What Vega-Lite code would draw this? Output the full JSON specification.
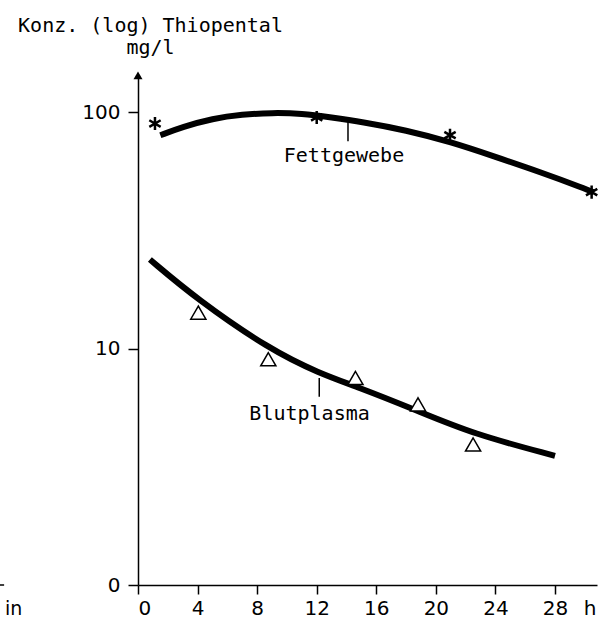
{
  "$schema": "https://vega.github.io/schema/vega-lite/v6.json",
  "width": 459,
  "height": 511,
  "autosize": {"type": "none"},
  "padding": {"left": 138, "top": 74, "right": 1, "bottom": 35},
  "background": "white",
  "config": {
    "view": {"stroke": null},
    "axis": {
      "domainColor": "black",
      "domainWidth": 1.5,
      "tickColor": "black",
      "tickWidth": 1.5,
      "grid": false,
      "labelColor": "black",
      "titleColor": "black",
      "labelFont": "DejaVu Sans",
      "titleFont": "DejaVu Sans Mono",
      "labelFontWeight": "normal",
      "titleFontWeight": "normal"
    }
  },
  "datasets": {
    "curves": [
      {"series": "Fettgewebe", "t": 1.5, "c": 79.9},
      {"series": "Fettgewebe", "t": 3, "c": 86.6},
      {"series": "Fettgewebe", "t": 5, "c": 94.0},
      {"series": "Fettgewebe", "t": 7, "c": 97.8},
      {"series": "Fettgewebe", "t": 9, "c": 99.4},
      {"series": "Fettgewebe", "t": 11, "c": 98.7},
      {"series": "Fettgewebe", "t": 13, "c": 94.9},
      {"series": "Fettgewebe", "t": 15, "c": 91.0},
      {"series": "Fettgewebe", "t": 18, "c": 83.9},
      {"series": "Fettgewebe", "t": 21, "c": 74.8},
      {"series": "Fettgewebe", "t": 24, "c": 64.7},
      {"series": "Fettgewebe", "t": 27, "c": 55.8},
      {"series": "Fettgewebe", "t": 30, "c": 47.5},
      {"series": "Fettgewebe", "t": 30.6, "c": 45.8},
      {"series": "Blutplasma", "t": 0.8, "c": 23.8},
      {"series": "Blutplasma", "t": 3.94, "c": 16.2},
      {"series": "Blutplasma", "t": 8.86, "c": 9.9},
      {"series": "Blutplasma", "t": 12.2, "c": 7.85},
      {"series": "Blutplasma", "t": 14.7, "c": 6.9},
      {"series": "Blutplasma", "t": 18.5, "c": 5.55},
      {"series": "Blutplasma", "t": 22.5, "c": 4.35},
      {"series": "Blutplasma", "t": 28, "c": 3.52}
    ],
    "fett": [
      {"t": 1.14, "c": 89.5},
      {"t": 12, "c": 95},
      {"t": 20.95, "c": 79.9},
      {"t": 30.46, "c": 45.9}
    ],
    "blut": [
      {"t": 4.05, "c": 14.2},
      {"t": 8.75, "c": 9.01},
      {"t": 14.6, "c": 7.51},
      {"t": 18.8, "c": 5.81},
      {"t": 22.5, "c": 3.93}
    ],
    "leaders": [
      {"t": 14.1, "c1": 75.4, "c2": 92.0},
      {"t": 12.17, "c1": 6.26, "c2": 7.5}
    ],
    "labels": [
      {"label": "Fettgewebe", "t": 13.83, "c": 61.4},
      {"label": "Blutplasma", "t": 11.52, "c": 5.0}
    ],
    "arrow": [{"t": 0, "c": 143.2}],
    "stray": [{"label": "in", "t": -8.93, "c": 0.746}],
    "dash": [{"t1": -9.27, "t2": -8.99, "c": 1}]
  },
  "layer": [
    {
      "data": {"name": "curves"},
      "mark": {"type": "line", "color": "black", "strokeWidth": 6, "interpolate": "basis", "strokeCap": "butt"},
      "encoding": {
        "x": {
          "field": "t", "type": "quantitative",
          "scale": {"domain": [0, 30.82], "nice": false, "zero": false},
          "axis": {
            "values": [0, 4, 8, 12, 16, 20, 24, 28],
            "tickSize": 9,
            "labelFontSize": 20,
            "labelBaseline": "alphabetic",
            "labelPadding": 20,
            "title": "h",
            "titleFont": "DejaVu Sans",
            "titleFontSize": 20,
            "titleX": 451.5,
            "titleY": 29,
            "titleAlign": "center",
            "titleBaseline": "alphabetic"
          }
        },
        "y": {
          "field": "c", "type": "quantitative",
          "scale": {"type": "log", "domain": [1, 145], "nice": false},
          "axis": {
            "values": [1, 10, 100],
            "format": "d",
            "labelExpr": "datum.value == 1 ? '0' : datum.label",
            "tickSize": 10,
            "labelFontSize": 20,
            "labelPadding": 8,
            "title": ["Konz. (log) Thiopental", "mg/l"],
            "titleFontSize": 20,
            "titleLineHeight": 22,
            "titleAngle": 0,
            "titleAlign": "center",
            "titleBaseline": "alphabetic",
            "titleX": 12,
            "titleY": -43
          }
        },
        "detail": {"field": "series"}
      }
    },
    {
      "data": {"name": "leaders"},
      "mark": {"type": "rule", "color": "black", "strokeWidth": 1.5},
      "encoding": {
        "x": {"field": "t", "type": "quantitative"},
        "y": {"field": "c1", "type": "quantitative"},
        "y2": {"field": "c2"}
      }
    },
    {
      "data": {"name": "fett"},
      "mark": {"type": "point", "shape": "M0,-1L0,1M-0.87,-0.5L0.87,0.5M-0.87,0.5L0.87,-0.5", "filled": false, "stroke": "black", "strokeWidth": 2.5, "size": 170, "opacity": 1},
      "encoding": {
        "x": {"field": "t", "type": "quantitative"},
        "y": {"field": "c", "type": "quantitative"}
      }
    },
    {
      "data": {"name": "blut"},
      "mark": {"type": "point", "shape": "triangle-up", "filled": false, "fill": "white", "fillOpacity": 1, "stroke": "black", "strokeWidth": 1.5, "size": 230, "opacity": 1},
      "encoding": {
        "x": {"field": "t", "type": "quantitative"},
        "y": {"field": "c", "type": "quantitative"}
      }
    },
    {
      "data": {"name": "labels"},
      "mark": {"type": "text", "font": "DejaVu Sans Mono", "fontSize": 20, "align": "center", "baseline": "alphabetic", "color": "black"},
      "encoding": {
        "x": {"field": "t", "type": "quantitative"},
        "y": {"field": "c", "type": "quantitative"},
        "text": {"field": "label"}
      }
    },
    {
      "data": {"name": "arrow"},
      "mark": {"type": "point", "shape": "triangle-up", "filled": true, "color": "black", "size": 81, "opacity": 1},
      "encoding": {
        "x": {"field": "t", "type": "quantitative"},
        "y": {"field": "c", "type": "quantitative"}
      }
    },
    {
      "data": {"name": "stray"},
      "mark": {"type": "text", "font": "DejaVu Sans", "fontSize": 19, "align": "left", "baseline": "alphabetic", "color": "black"},
      "encoding": {
        "x": {"field": "t", "type": "quantitative"},
        "y": {"field": "c", "type": "quantitative"},
        "text": {"field": "label"}
      }
    },
    {
      "data": {"name": "dash"},
      "mark": {"type": "rule", "color": "black", "strokeWidth": 1.5},
      "encoding": {
        "x": {"field": "t1", "type": "quantitative"},
        "x2": {"field": "t2"},
        "y": {"field": "c", "type": "quantitative"}
      }
    }
  ]
}
